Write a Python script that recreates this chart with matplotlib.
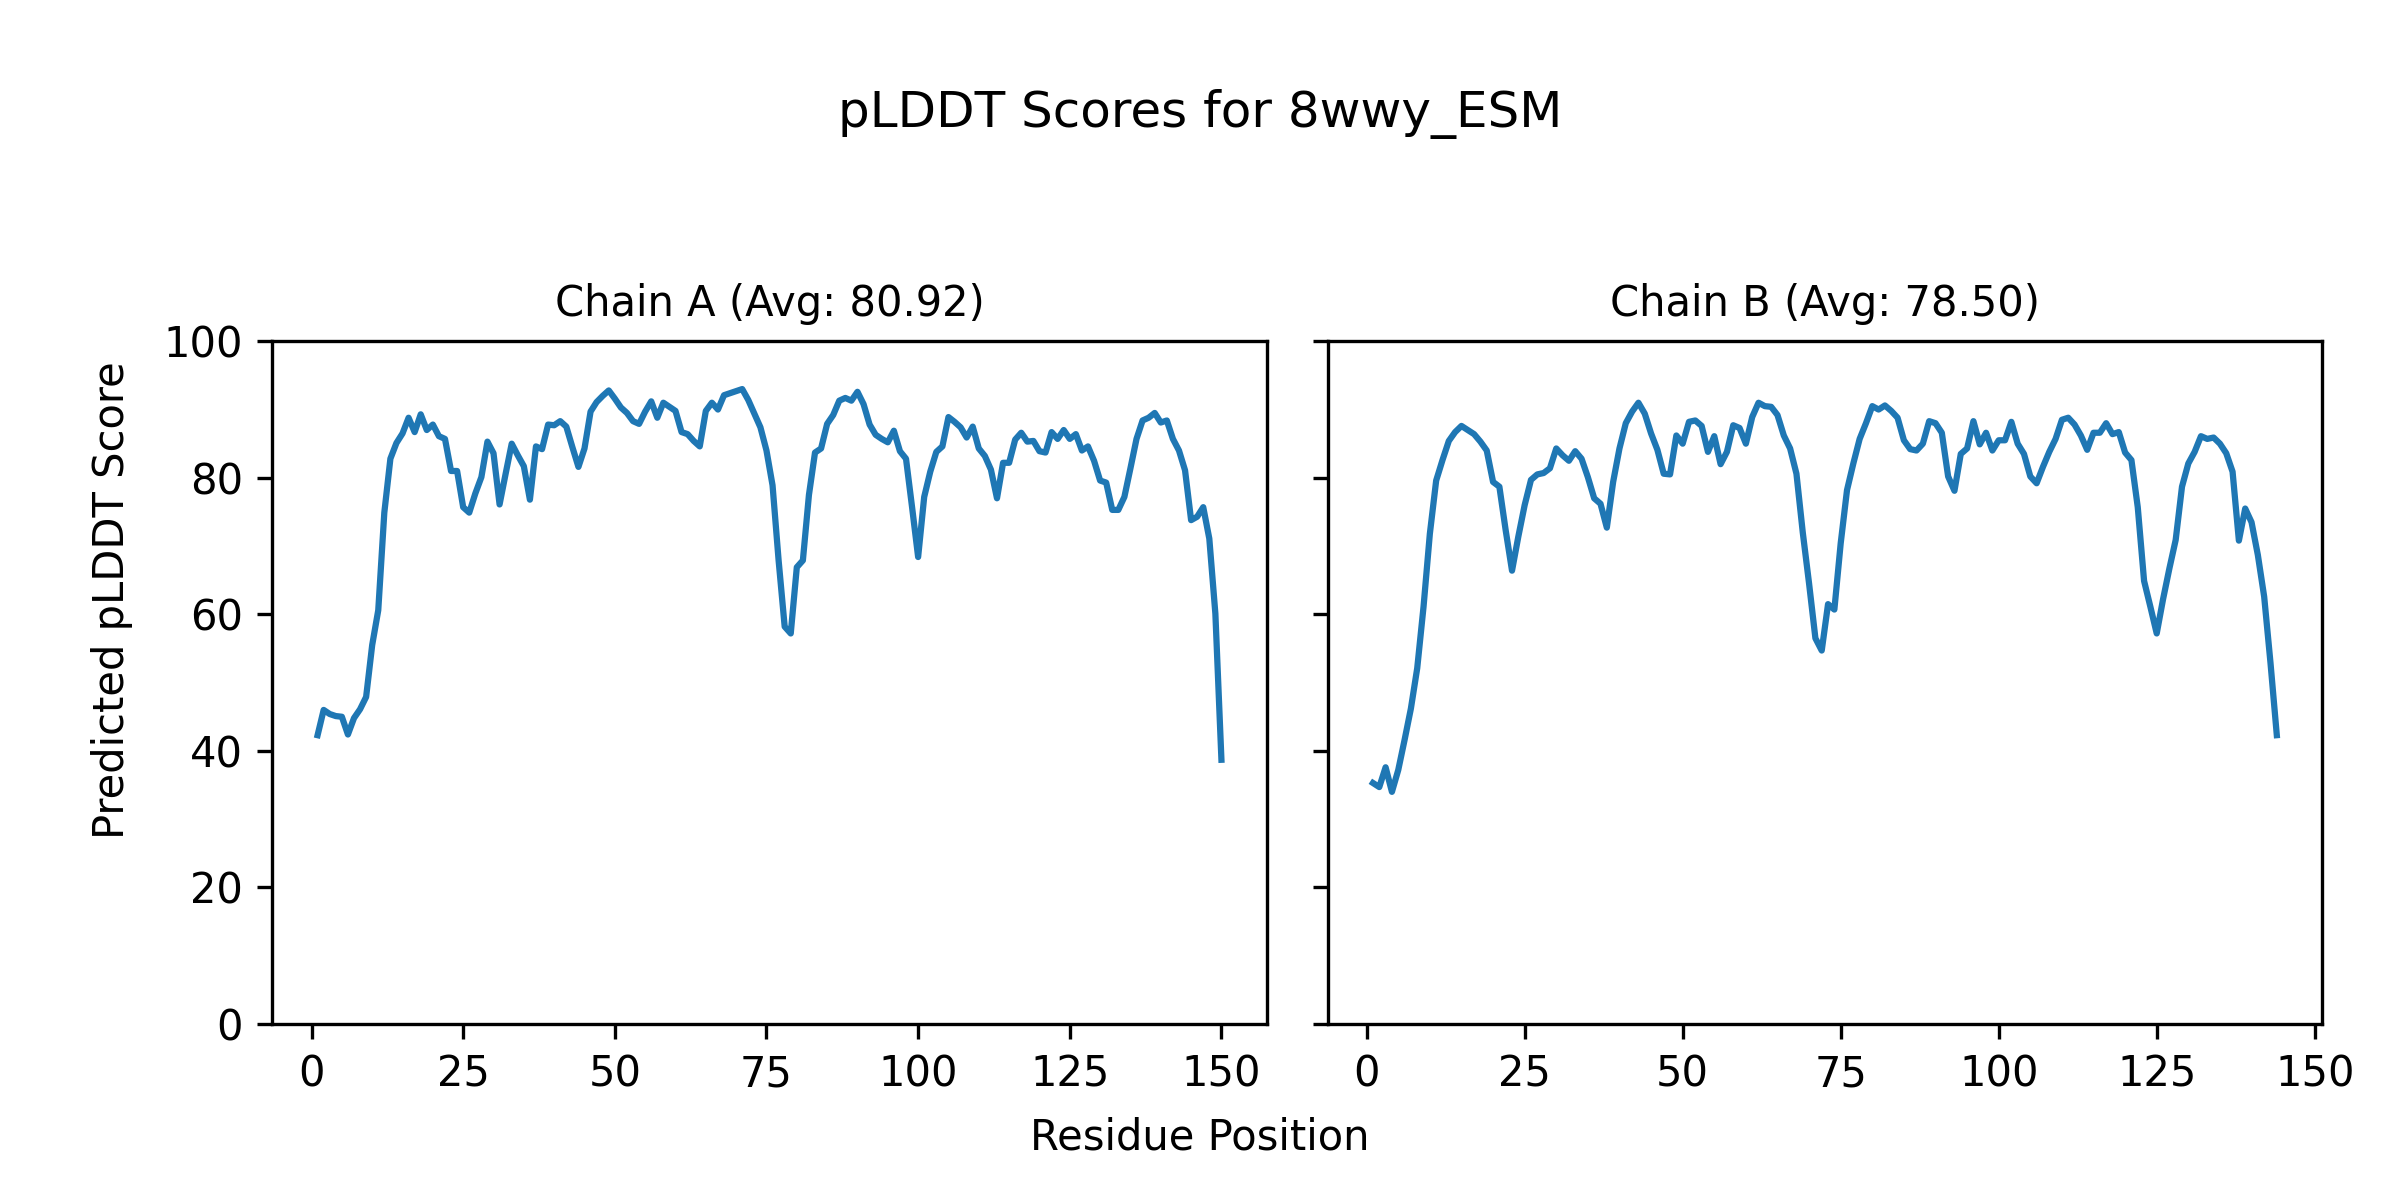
import matplotlib
matplotlib.use('Agg')
import matplotlib.pyplot as plt
import numpy as np

# pLDDT scores, one value per residue
chain_a_scores = [
    42.3, 46.0, 45.4, 45.1, 45.0, 42.4, 44.8, 46.1, 47.9, 55.5,
    60.6, 74.9, 82.8, 85.1, 86.5, 88.8, 86.7, 89.3, 87.0, 87.8,
    86.1, 85.7, 81.0, 81.0, 75.7, 74.9, 77.7, 80.1, 85.3, 83.6,
    76.1, 80.6, 85.0, 83.3, 81.7, 76.8, 84.6, 84.2, 87.8, 87.7,
    88.3, 87.5, 84.5, 81.6, 84.3, 89.7, 91.1, 92.0, 92.8, 91.6,
    90.3, 89.5, 88.3, 87.9, 89.7, 91.2, 88.8, 91.0, 90.4, 89.8,
    86.7, 86.4, 85.4, 84.6, 89.8, 91.0, 90.0, 92.1, 92.4, 92.7,
    93.0, 91.4, 89.4, 87.4, 84.0, 78.9, 67.9, 58.2, 57.2, 66.9,
    67.9, 77.5, 83.7, 84.3, 87.9, 89.2, 91.3, 91.7, 91.3, 92.6,
    90.8, 87.8, 86.3, 85.7, 85.2, 86.9, 83.9, 82.8, 75.7, 68.4,
    77.2, 80.9, 83.8, 84.6, 88.9, 88.2, 87.4, 85.9, 87.5, 84.3,
    83.2, 81.2, 77.0, 82.2, 82.2, 85.6, 86.6, 85.3, 85.4, 83.9,
    83.7, 86.7, 85.7, 87.0, 85.7, 86.4, 84.0, 84.6, 82.5, 79.6,
    79.3, 75.3, 75.3, 77.2, 81.4, 85.7, 88.4, 88.8, 89.5, 88.1,
    88.4, 85.7, 84.0, 81.1, 73.8, 74.3, 75.7, 71.1, 60.1, 38.7,
]

chain_b_scores = [
    35.3, 34.7, 37.6, 34.0, 37.2, 41.6, 46.2, 52.1, 61.1, 71.8,
    79.6, 82.6, 85.4, 86.7, 87.6, 87.0, 86.4, 85.3, 84.0, 79.4,
    78.7, 72.3, 66.4, 71.4, 76.0, 79.7, 80.5, 80.7, 81.4, 84.3,
    83.3, 82.5, 83.9, 82.8, 80.1, 77.0, 76.2, 72.7, 79.4, 84.3,
    88.0, 89.7, 91.0, 89.4, 86.5, 84.1, 80.6, 80.5, 86.2, 85.0,
    88.2, 88.4, 87.6, 83.8, 86.1, 82.0, 83.8, 87.7, 87.3, 85.0,
    88.9, 91.0, 90.5, 90.4, 89.2, 86.2, 84.3, 80.6, 72.0, 64.5,
    56.5, 54.7, 61.5, 60.7, 70.4, 78.2, 82.1, 85.7, 88.0, 90.5,
    90.0, 90.6, 89.8, 88.8, 85.5, 84.2, 84.0, 85.0, 88.3, 88.0,
    86.6, 80.2, 78.1, 83.5, 84.3, 88.3, 84.9, 86.6, 84.0, 85.5,
    85.5, 88.2, 85.0, 83.5, 80.2, 79.2, 81.6, 83.8, 85.7, 88.5,
    88.8, 87.8, 86.2, 84.1, 86.6, 86.6, 88.0, 86.4, 86.7, 83.7,
    82.6, 75.7, 64.9, 61.1, 57.2, 62.2, 66.7, 70.9, 78.7, 82.1,
    83.8, 86.1, 85.7, 85.9, 85.0, 83.6, 80.9, 70.8, 75.5, 73.5,
    68.7, 62.6, 52.9, 42.3,
]

chain_names = ['A', 'B']
chain_avgs = [80.92, 78.50]
structure_name = '8wwy_ESM'

fig, axes = plt.subplots(1, 2, figsize=(8, 4), dpi=300, sharey=True)

for ax, name, scores, avg in zip(axes, chain_names, [chain_a_scores, chain_b_scores], chain_avgs):
    positions = np.arange(1, len(scores) + 1)
    ax.plot(positions, scores, color='#1f77b4', linewidth=1.5)
    ax.set_title(f'Chain {name} (Avg: {avg:.2f})', fontsize=10)
    ax.set_ylim(0, 100)
    ax.set_xticks([0, 25, 50, 75, 100, 125, 150])

axes[0].set_yticks([0, 20, 40, 60, 80, 100])

fig.suptitle(f'pLDDT Scores for {structure_name}', fontsize=12, y=0.905, va='center')
fig.supxlabel('Residue Position', fontsize=10, y=0.052, va='center')
fig.supylabel('Predicted pLDDT Score', fontsize=10, x=0.0466, ha='center')

plt.subplots_adjust(left=0.1135, right=0.9675, bottom=0.1467, top=0.7156, wspace=0.0615)
plt.savefig('out.png', dpi=300)
